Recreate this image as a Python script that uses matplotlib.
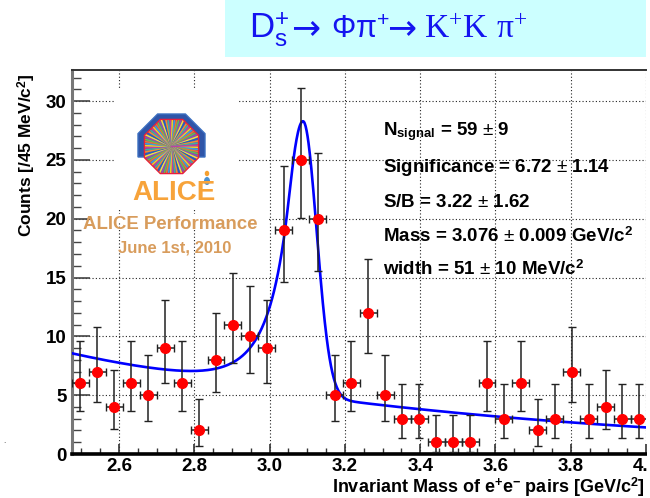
import numpy as np
import matplotlib
matplotlib.use("Agg")
import matplotlib.pyplot as plt
from matplotlib.patches import Rectangle, Polygon, Circle, Ellipse
from matplotlib.ticker import MultipleLocator

plt.rcParams['font.family'] = ['Liberation Sans', 'DejaVu Sans']
plt.rcParams['mathtext.fontset'] = 'custom'
plt.rcParams['mathtext.rm'] = 'Liberation Serif'
plt.rcParams['mathtext.sf'] = 'Liberation Sans'
plt.rcParams['mathtext.bf'] = 'Liberation Sans:bold'
plt.rcParams['mathtext.it'] = 'Liberation Serif:italic'

# ---------------- data ----------------
mass_centers = [2.4975, 2.5425, 2.5875, 2.6325, 2.6775, 2.7225, 2.7675, 2.8125,
                2.8575, 2.9025, 2.9475, 2.9925, 3.0375, 3.0825, 3.1275, 3.1725,
                3.2175, 3.2625, 3.3075, 3.3525, 3.3975, 3.4425, 3.4875, 3.5325,
                3.5775, 3.6225, 3.6675, 3.7125, 3.7575, 3.8025, 3.8475, 3.8925,
                3.9375, 3.9825]
counts = [6, 7, 4, 6, 5, 9, 6, 2, 8, 11, 10, 9, 19, 25, 20, 5,
          6, 12, 5, 3, 3, 1, 1, 1, 6, 3, 6, 2, 3, 7, 3, 4, 3, 3]
err_low = [2.38, 2.58, 1.91, 2.38, 2.16, 2.94, 2.38, 1.29, 2.77, 3.27, 3.11, 2.94,
           4.35, 4.97, 4.46, 2.16, 2.38, 3.41, 2.16, 1.63, 1.63, 0.83, 0.83, 0.83,
           2.38, 1.63, 2.38, 1.29, 1.63, 2.58, 1.63, 1.91, 1.63, 1.63]
err_high = [3.58, 3.77, 3.16, 3.58, 3.38, 4.11, 3.58, 2.64, 3.95, 4.42, 4.27, 4.11,
            5.47, 6.07, 5.58, 3.38, 3.58, 4.56, 3.38, 2.92, 2.92, 2.30, 2.30, 2.30,
            3.58, 2.92, 3.58, 2.64, 2.92, 3.77, 2.92, 3.16, 2.92, 2.92]
bin_half_width = 0.0225

# fit parameters (signal: asymmetric Crystal Ball, background: exponential)
fit_mu = 3.089
fit_amp = 23.3
fit_sigma_left = 0.046
fit_sigma_right = 0.036
fit_alpha = 0.833
fit_n = 5.0
bkg_norm = 8.5
bkg_slope = 0.869
bkg_x0 = 2.475

x_ticks = [2.6, 2.8, 3.0, 3.2, 3.4, 3.6, 3.8, 4.0]
x_tick_labels = ["2.6", "2.8", "3.0", "3.2", "3.4", "3.6", "3.8", "4.0"]
y_ticks = [0, 5, 10, 15, 20, 25, 30]
y_tick_labels = ["0", "5", "10", "15", "20", "25", "30"]

stats_lines = [r"N$_{\mathbf{signal}}$ = 59 $\mathsf{\pm}$ 9",
               r"Significance = 6.72 $\mathsf{\pm}$ 1.14",
               r"S/B = 3.22 $\mathsf{\pm}$ 1.62",
               r"Mass = 3.076 $\mathsf{\pm}$ 0.009 GeV/c$^{\mathbf{2}}$",
               r"width = 51 $\mathsf{\pm}$ 10 MeV/c$^{\mathbf{2}}$"]


def fit_model(x):
    x = np.asarray(x, dtype=float)
    sig = np.where(x < fit_mu, fit_sigma_left, fit_sigma_right)
    t = (x - fit_mu) / sig
    a_ = (fit_n / fit_alpha) ** fit_n * np.exp(-fit_alpha ** 2 / 2)
    b_ = fit_n / fit_alpha - fit_alpha
    core = np.exp(-0.5 * t ** 2)
    tail = a_ * np.power(np.clip(b_ - t, 1e-9, None), -fit_n)
    s = np.where(t >= -fit_alpha, core, tail)
    return fit_amp * s + bkg_norm * np.exp(-bkg_slope * (x - bkg_x0))


# ---------------- figure ----------------
W, H = 650, 498
fig = plt.figure(figsize=(6.5, 4.98), dpi=100)


def fx(px):
    return px / W


def fy(py):
    return 1 - py / H


ax_l, ax_r, ax_t, ax_b = 72, 646, 70.5, 454
ax = fig.add_axes([fx(ax_l), fy(ax_b), (ax_r - ax_l) / W, (ax_b - ax_t) / H])
ax.set_xlim(2.475, 3.997)
ax.set_ylim(0, 32.6)

ax.set_xticks(x_ticks)
ax.set_xticklabels(x_tick_labels)
ax.set_yticks(y_ticks)
ax.set_yticklabels(y_tick_labels)
ax.xaxis.set_minor_locator(MultipleLocator(0.05))
ax.yaxis.set_minor_locator(MultipleLocator(1))
ax.tick_params(axis='x', which='major', direction='in', length=7, width=1.2,
               labelsize=13.5, pad=3, color='#333333', top=False)
ax.tick_params(axis='x', which='minor', direction='in', length=4, width=1.0,
               color='#333333', top=False)
ax.tick_params(axis='y', which='major', direction='in', length=13, width=1.2,
               labelsize=13.5, pad=4, color='#444444', right=False)
ax.tick_params(axis='y', which='minor', direction='in', length=6.5, width=1.0,
               color='#444444', right=False)
for lab in ax.get_xticklabels() + ax.get_yticklabels():
    lab.set_fontweight('bold')

ax.grid(True, which='major', linestyle=(0, (1, 2)), linewidth=0.8, color='#222222')
ax.set_axisbelow(True)

ax.spines['left'].set_linewidth(2.2)
ax.spines['left'].set_color('#777777')
ax.spines['bottom'].set_linewidth(2.6)
ax.spines['bottom'].set_color('#000000')
ax.spines['top'].set_linewidth(1.4)
ax.spines['top'].set_color('#333333')
ax.spines['right'].set_visible(False)

# white background of the logo (hides grid)
ax.add_patch(Rectangle((fx(115), fy(210)), (238 - 115) / W, (210 - 88) / H,
                       transform=fig.transFigure, facecolor='white',
                       edgecolor='none', zorder=1.5))
ax.add_patch(Rectangle((fx(90), fy(222)), (269 - 90) / W, 8 / H,
                       transform=fig.transFigure, facecolor='white',
                       edgecolor='none', zorder=1.5))

# fit curve
xf = np.linspace(2.475, 3.997, 1200)
ax.plot(xf, fit_model(xf), color='#0000ff', linewidth=1.9, zorder=3)

# data points
ax.errorbar(mass_centers, counts, xerr=bin_half_width,
            yerr=[err_low, err_high], fmt='o', color='#ff0000',
            markersize=7, ecolor='#222222', elinewidth=1.1, capsize=3.2,
            capthick=1.0, zorder=4)

# stats text
stat_baselines = [135, 171.5, 206.5, 241.5, 275]
for txt, by in zip(stats_lines, stat_baselines):
    fig.text(fx(383), fy(by), txt, fontsize=13.5, fontweight='bold',
             ha='left', va='baseline', color='black', zorder=6)

# axis labels
fig.text(fx(27), fy(155), r"Counts [/45 MeV/c$^{\mathbf{2}}$]", rotation=90,
         fontsize=12.5, fontweight='bold', ha='center', va='center')
fig.text(fx(645), fy(493), r"Invariant Mass of e$^{\mathbf{+}}$e$^{\mathbf{-}}$ pairs [GeV/c$^{\mathbf{2}}$]",
         fontsize=13, fontweight='bold', ha='right', va='baseline')

# ALICE performance texts
tan = '#d89c5c'
fig.text(fx(170.5), fy(224.5), "ALICE Performance", fontsize=13.4,
         fontweight='bold', color=tan, ha='center', va='center', zorder=6)
fig.text(fx(175), fy(248), "June 1st, 2010", fontsize=12,
         fontweight='bold', color=tan, ha='center', va='center', zorder=6)

# ---------------- ALICE logo ----------------
lg_l, lg_r, lg_t, lg_b = 130, 218, 106, 206
lax = fig.add_axes([fx(lg_l), fy(lg_b), (lg_r - lg_l) / W, (lg_b - lg_t) / H])
lax.set_xlim(lg_l, lg_r)
lax.set_ylim(lg_b, lg_t)
lax.axis('off')
lax.patch.set_alpha(0)
cx, cy = 171.5, 146.5
R_out = 33.5 / np.cos(np.pi / 8)
s_out = R_out * np.sin(np.pi / 8)
band = [(cx + 33.5, 157), (cx + 33.5, cy + 1 - s_out), (cx + s_out, cy + 1 - 33.5),
        (cx - s_out, cy + 1 - 33.5), (cx - 33.5, cy + 1 - s_out), (cx - 33.5, 157)]
lax.add_patch(Polygon(band, closed=True, facecolor='#2f55a8', edgecolor='#3b6fc0',
                      linewidth=1.0))
R_in = 26.5 / np.cos(np.pi / 8)
ang = np.deg2rad(22.5 + 45 * np.arange(8))
octo = np.column_stack([cx + R_in * np.cos(ang), cy + R_in * np.sin(ang)])
inner = Polygon(octo, closed=True, facecolor='#6a5aa8', edgecolor='none')
lax.add_patch(inner)
ray_colors = ['#f5d020', '#3aa0e0', '#e87830', '#60c050', '#9050b0', '#f0e040',
              '#2060c0', '#f09030', '#40b0a0', '#c040a0']
for k in range(80):
    a = 2 * np.pi * k / 80 + 0.03
    ln, = lax.plot([cx, cx + 40 * np.cos(a)], [cy, cy + 40 * np.sin(a)],
                   color=ray_colors[k % len(ray_colors)], linewidth=1.1)
    ln.set_clip_path(inner)
glow = Circle((cx, cy), 9, facecolor='#f7a030', edgecolor='none', alpha=0.75)
lax.add_patch(glow)
glow.set_clip_path(inner)
lax.add_patch(Polygon(octo, closed=True, facecolor='none', edgecolor='#e8203c',
                      linewidth=1.8))
lax.add_patch(Ellipse((207, 181), 6, 8, facecolor='#4a90d0', edgecolor='none'))
lax.add_patch(Ellipse((207, 173.5), 4.5, 5.5, facecolor='#f5a030', edgecolor='none'))
lax.text(174, 200, "ALICE", fontsize=20, fontweight='bold', color='#f7a33a',
         ha='center', va='baseline')

# ---------------- title box ----------------
fig.patches.append(Rectangle((fx(225), fy(57)), (646 - 225) / W, 57 / H,
                             transform=fig.transFigure, facecolor='#ccffff',
                             edgecolor='none', zorder=0))
title_blue = '#1414f0'
# (text, x_left_px, baseline_px, fontsize, family)
title_parts = [(r"$\mathsf{D}_{\mathsf{s}}^{\mathsf{+}}$", 249, 38, 25, 'Liberation Sans'),
               ("→", 291, 38, 25, 'DejaVu Sans'),
               (r"$\mathsf{\Phi\pi}^{\mathsf{+}}$", 331, 38, 22, 'Liberation Sans'),
               ("→", 387, 38, 25, 'DejaVu Sans'),
               (r"$\mathrm{K}^{\mathrm{+}}\mathrm{K}$", 424, 38, 24, 'Liberation Serif'),
               (r"$\mathrm{\pi}^{\mathrm{+}}$", 496, 38, 24, 'Liberation Serif')]
for txt, px, by, fs, fam in title_parts:
    fig.text(fx(px), fy(by), txt, fontsize=fs, family=[fam, 'DejaVu Sans'],
             color=title_blue, ha='left', va='baseline', zorder=5)

# stray dot on the left
fig.text(fx(4), fy(441), ".", fontsize=6, color='#333333', ha='center', va='center')

# crop on the right (reference image ends at x~646)
fig.patches.append(Rectangle((fx(646.5), 0), 3.5 / W, 1, transform=fig.transFigure,
                             facecolor='white', edgecolor='none', zorder=20))

fig.savefig("out.png", dpi=100)
